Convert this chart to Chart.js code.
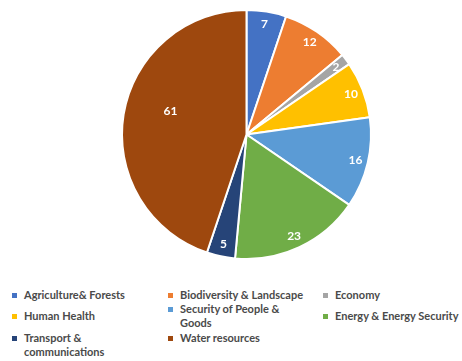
<!DOCTYPE html>
<html>
<head>
<meta charset="utf-8">
<script src="https://cdn.jsdelivr.net/npm/chart.js@4/dist/chart.umd.min.js"></script>
<style>
  html, body { margin: 0; padding: 0; background: #ffffff; }
  #wrap { position: relative; width: 462px; height: 361px; overflow: hidden; }
  #c { position: absolute; left: 0; top: 0; }
  .lg { position: absolute; font-family: Lato, "Noto Sans", sans-serif; font-weight: 700; font-size: 11px; line-height: 14px; color: #4a4a4a; }
  .lg .m { position: absolute; left: -12px; top: 5px; width: 5px; height: 5px; }
</style>
</head>
<body>
<div id="wrap">
  <canvas id="c" width="462" height="270"></canvas>
</div>
<script>
const categories = ["Agriculture& Forests", "Biodiversity & Landscape", "Economy", "Human Health", "Security of People & Goods", "Energy & Energy Security", "Transport & communications", "Water resources"];
const values = [7, 12, 2, 10, 16, 23, 5, 61];
const colors = ["#4472C4", "#ED7D31", "#A5A5A5", "#FFC000", "#5B9BD5", "#70AD47", "#264478", "#9E480E"];

// legend layout (columns/rows) as in the reference
const legendSlots = [
  {x: 24, y: 288, w: 130},
  {x: 180, y: 288, w: 150},
  {x: 335, y: 288, w: 125},
  {x: 24, y: 309, w: 130},
  {x: 180, y: 302, w: 110},
  {x: 335, y: 309, w: 127},
  {x: 24, y: 331, w: 90},
  {x: 180, y: 331, w: 150}
];
const wrap = document.getElementById('wrap');
categories.forEach((cat, i) => {
  const s = legendSlots[i];
  const d = document.createElement('div');
  d.className = 'lg';
  d.style.left = s.x + 'px';
  d.style.top = s.y + 'px';
  d.style.width = s.w + 'px';
  const m = document.createElement('span');
  m.className = 'm';
  m.style.background = colors[i];
  d.appendChild(m);
  d.appendChild(document.createTextNode(cat));
  wrap.appendChild(d);
});

const labelPlugin = {
  id: 'sliceLabels',
  afterDatasetsDraw(chart) {
    const ctx = chart.ctx;
    const meta = chart.getDatasetMeta(0);
    const total = values.reduce((a, b) => a + b, 0);
    ctx.save();
    ctx.fillStyle = '#ffffff';
    ctx.font = 'bold 12px Lato, "Noto Sans", sans-serif';
    ctx.textAlign = 'center';
    ctx.textBaseline = 'middle';
    meta.data.forEach((arc, i) => {
      const p = arc.getProps(['x', 'y', 'startAngle', 'endAngle', 'outerRadius'], true);
      let mid = (p.startAngle + p.endAngle) / 2;
      const big = values[i] / total > 0.3;
      if (big) mid += 0.14;
      const r = p.outerRadius * (big ? 0.64 : 0.9);
      ctx.fillText(String(values[i]), p.x + Math.cos(mid) * r, p.y + Math.sin(mid) * r);
    });
    ctx.restore();
  }
};

new Chart(document.getElementById('c'), {
  type: 'pie',
  data: {
    labels: categories,
    datasets: [{
      data: values,
      backgroundColor: colors,
      borderColor: '#ffffff',
      borderWidth: 2
    }]
  },
  options: {
    responsive: false,
    animation: false,
    layout: { padding: { top: 9, bottom: 10, left: 31, right: 0 } },
    plugins: {
      legend: { display: false },
      tooltip: { enabled: false }
    }
  },
  plugins: [labelPlugin]
});
</script>
</body>
</html>
